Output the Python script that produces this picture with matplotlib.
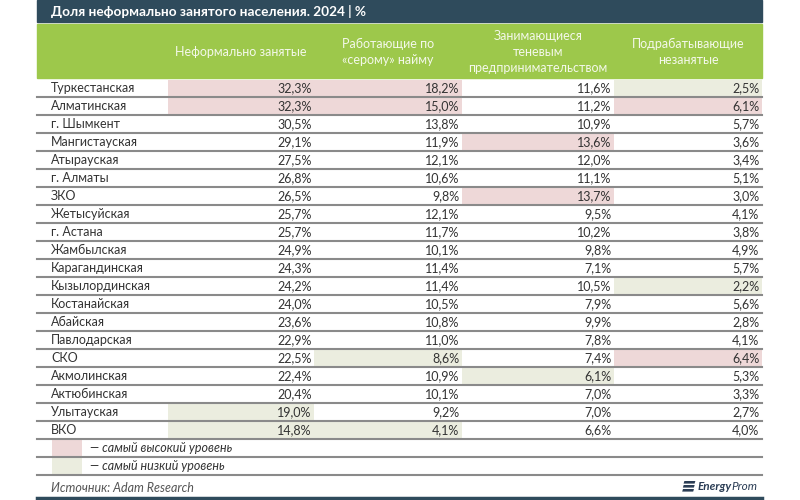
import matplotlib
matplotlib.use("Agg")
import matplotlib.pyplot as plt
from matplotlib.patches import Rectangle, Polygon

plt.rcParams['font.family'] = ['Lato', 'DejaVu Sans']

# --- данные ---
regions = ["Туркестанская", "Алматинская", "г. Шымкент", "Мангистауская",
           "Атырауская", "г. Алматы", "ЗКО", "Жетысуйская", "г. Астана",
           "Жамбылская", "Карагандинская", "Кызылординская", "Костанайская",
           "Абайская", "Павлодарская", "СКО", "Акмолинская", "Актюбинская",
           "Улытауская", "ВКО"]
informal = [32.3, 32.3, 30.5, 29.1, 27.5, 26.8, 26.5, 25.7, 25.7, 24.9,
            24.3, 24.2, 24.0, 23.6, 22.9, 22.5, 22.4, 20.4, 19.0, 14.8]
grey_hire = [18.2, 15.0, 13.8, 11.9, 12.1, 10.6, 9.8, 12.1, 11.7, 10.1,
             11.4, 11.4, 10.5, 10.8, 11.0, 8.6, 10.9, 10.1, 9.2, 4.1]
shadow_biz = [11.6, 11.2, 10.9, 13.6, 12.0, 11.1, 13.7, 9.5, 10.2, 9.8,
              7.1, 10.5, 7.9, 9.9, 7.8, 7.4, 6.1, 7.0, 7.0, 6.6]
part_time = [2.5, 6.1, 5.7, 3.6, 3.4, 5.1, 3.0, 4.1, 3.8, 4.9,
             5.7, 2.2, 5.6, 2.8, 4.1, 6.4, 5.3, 3.3, 2.7, 4.0]
columns = ["Неформально занятые", "Работающие по\n«серому» найму",
           "Занимающиеся\nтеневым\nпредпринимательством",
           "Подрабатывающие\nнезанятые"]
# (строка, столбец)
high_cells = [(0, 0), (1, 0), (0, 1), (1, 1), (3, 2), (6, 2), (1, 3), (15, 3)]
low_cells = [(0, 3), (11, 3), (15, 1), (16, 2), (18, 0), (19, 0), (19, 1)]

title = "Доля неформально занятого населения. 2024 | %"
legend_high = "— самый высокий уровень"
legend_low = "— самый низкий уровень"
source = "Источник: Adam Research"

# --- оформление ---
dark = "#2f4b5c"
green = "#9dc84b"
pink = "#eed8d8"
pale = "#ebeddf"
line_c = "#8a8a8a"
txt_c = "#333333"
fs = 9

left, right = 37, 762
col_edges = [168, 314, 462, 614, 762]
row_top = 79
row_h = 18

fig = plt.figure(figsize=(8, 5), dpi=100)
ax = fig.add_axes([0, 0, 1, 1])
ax.set_xlim(0, 800)
ax.set_ylim(500, 0)
ax.axis("off")

# заголовок
ax.add_patch(Rectangle((left, 0), right - left, 22, color=dark))
ax.text(51, 11.5, title, color="white", fontsize=9.8, fontweight="bold",
        va="center", ha="left")

# шапка таблицы
ax.add_patch(Rectangle((left, 24), right - left, 54, color=green))
for j, name in enumerate(columns):
    cx = (col_edges[j] + col_edges[j + 1]) / 2
    ax.text(cx, 52, name, color="#f4f8ea", fontsize=fs, ha="center",
            va="center", linespacing=1.4)

# подсветка ячеек
for cells, colr in ((high_cells, pink), (low_cells, pale)):
    for r, c in cells:
        y0 = row_top + r * row_h
        ax.add_patch(Rectangle((col_edges[c], y0 + 1), col_edges[c + 1] - col_edges[c],
                               row_h - 2, color=colr, lw=0))

# строки
values = [informal, grey_hire, shadow_biz, part_time]
for i, reg in enumerate(regions):
    yc = row_top + i * row_h + row_h / 2 + 0.5
    ax.text(51, yc, reg, color=txt_c, fontsize=fs, va="center", ha="left")
    for j, col in enumerate(values):
        s = f"{col[i]:.1f}".replace(".", ",") + "%"
        ax.text(col_edges[j + 1] - 2.5, yc, s, color=txt_c, fontsize=fs,
                va="center", ha="right")
    ax.plot([left, right], [row_top + (i + 1) * row_h] * 2, color=line_c, lw=1.5)

# легенда
leg_top = row_top + len(regions) * row_h
for k, (colr, lab) in enumerate(((pink, legend_high), (pale, legend_low))):
    y0 = leg_top + k * row_h
    ax.add_patch(Rectangle((52, y0 + 1), 30, row_h - 2, color=colr, lw=0))
    ax.text(90, y0 + row_h / 2 + 0.5, lab, color=txt_c, fontsize=fs,
            style="italic", va="center", ha="left")
    ax.plot([left, right], [y0 + row_h] * 2, color=line_c, lw=1.5)

# источник
ax.text(51, 488, source, color="#555555", fontsize=fs, style="italic",
        va="center", ha="left")
ax.plot([left, right], [498, 498], color=dark, lw=2.5)

# логотип
logo_c = "#2b3d55"
inv = ax.transData.inverted()
t_prom = ax.text(757, 487, "Prom", color=logo_c, fontsize=8.5, style="italic",
                 va="center", ha="right")
fig.canvas.draw()
x_prom = inv.transform((t_prom.get_window_extent().x0, 0))[0]
t_en = ax.text(x_prom + 0.5, 487, "Energy", color=logo_c, fontsize=8.5, style="italic",
               fontweight="bold", va="center", ha="right")
fig.canvas.draw()
x_en = inv.transform((t_en.get_window_extent().x0, 0))[0]
for k in range(3):
    y = 481 + k * 4
    x1 = x_en - 2 - k * 0.7
    ax.add_patch(Polygon([(x1 - 11, y), (x1, y), (x1 - 0.8, y + 2.6),
                          (x1 - 11.8, y + 2.6)], closed=True, color=logo_c, lw=0))

fig.savefig("out.png", dpi=100)
